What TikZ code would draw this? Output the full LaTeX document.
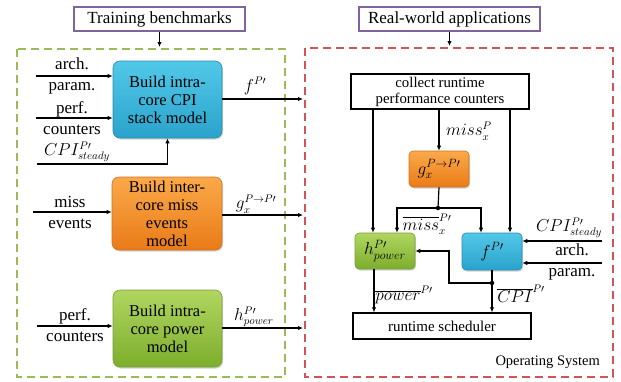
\documentclass[tikz,border=0pt]{standalone}
\usepackage{fontspec}
\setmainfont{Liberation Serif}
\usetikzlibrary{arrows.meta,shadows}
\definecolor{purp}{HTML}{8064A2}
\definecolor{gdash}{HTML}{9BBB59}
\definecolor{rdash}{HTML}{D05555}
\definecolor{blueT}{HTML}{52C8E8}
\definecolor{blueB}{HTML}{2AA3CC}
\definecolor{blueD}{HTML}{2A8CB0}
\definecolor{oraT}{HTML}{FBA94A}
\definecolor{oraB}{HTML}{E97B17}
\definecolor{oraD}{HTML}{D07020}
\definecolor{grnT}{HTML}{B0D660}
\definecolor{grnB}{HTML}{7DAE2C}
\definecolor{grnD}{HTML}{78A040}
\tikzset{
  every node/.style={font=\fontsize{16}{18}\selectfont, inner sep=0pt},
  arr/.style={line width=1.2pt, -{Latex[length=5pt,width=4.5pt]}},
  wire/.style={line width=1.2pt},
  titlebox/.style={draw=purp, line width=1.2pt, minimum height=24pt, font=\fontsize{17}{18}\selectfont},
  plainbox/.style={draw=black, line width=1.4pt},
  model/.style={rounded corners=7pt, align=center, line width=0.6pt,
     font=\fontsize{16.5}{18}\selectfont,
     drop shadow={opacity=0.35, shadow xshift=1pt, shadow yshift=-1.5pt}},
  bluebox/.style={model, draw=blueD, top color=blueT, bottom color=blueB},
  orabox/.style={model, draw=oraD, top color=oraT, bottom color=oraB},
  grnbox/.style={model, draw=grnD, top color=grnT, bottom color=grnB},
  lbl/.style={align=center, font=\fontsize{17}{21}\selectfont},
  mth/.style={font=\fontsize{16}{18}\selectfont},
  dot/.style={circle, fill=black, minimum size=4.5pt}
}
\begin{document}
\begin{tikzpicture}[x=1pt,y=-1pt]
\useasboundingbox (0,0) rectangle (621,381);
% dashed frames
\draw[gdash, line width=1.3pt, dash pattern=on 8pt off 5pt] (17,49) rectangle (285,377);
\draw[rdash, line width=1.3pt, dash pattern=on 8pt off 5pt] (305,48) rectangle (613,377);
% titles
\node[titlebox, minimum width=171pt] (train) at (159.5,19) {Training benchmarks};
\node[titlebox, minimum width=181pt] (real) at (449.5,19) {Real-world applications};
\coordinate (gtop) at (159.5,47);
\coordinate (rtop) at (449.5,46);
\draw[arr] (train) -- (gtop);
\draw[arr] (real) -- (rtop);
% left models
\node[bluebox, minimum width=109pt, minimum height=77pt] (cpi) at (167.5,99.5) {Build intra-\\core CPI\\stack model};
\node[orabox, minimum width=110pt, minimum height=73pt] (miss) at (167,213.5) {Build inter-\\core miss\\events\\model};
\node[grnbox, minimum width=109pt, minimum height=77pt] (pow) at (167.5,328.5) {Build intra-\\core power\\model};
% left inputs
\coordinate (a1) at (36,76);
\coordinate (a2) at (36,118);
\coordinate (a3) at (37,164);
\coordinate (a4) at (33,212);
\coordinate (a5) at (37,326);
\node[lbl] (l1) at (72,76) {arch.\\param.};
\node[lbl] (l2) at (72,118) {perf.\\counters};
\node[mth] (l3) at (77,152) {$CPI^{P\prime}_{steady}$};
\node[lbl] (l4) at (70,212) {miss\\events};
\node[lbl] (l5) at (75,325) {perf.\\counters};
\draw[arr] (a1) -- (a1 -| cpi.west);
\draw[arr] (a2) -- (a2 -| cpi.west);
\draw[arr] (a3) -| (cpi.south);
\draw[arr] (a4) -- (a4 -| miss.west);
\draw[arr] (a5) -- (a5 -| pow.west);
% left outputs
\coordinate (o1) at (303,99);
\coordinate (o2) at (303,215);
\coordinate (o3) at (303,328);
\draw[arr] (o1 -| cpi.east) -- (o1);
\draw[arr] (o2 -| miss.east) -- (o2);
\draw[arr] (o3 -| pow.east) -- (o3);
\node[mth] (f1) at (255,86) {$f^{P\prime}$};
\node[mth] (g1) at (256,204) {$g_x^{P\rightarrow P\prime}$};
\node[mth] (h1) at (254,317) {$h^{P\prime}_{power}$};
% right side
\node[plainbox, minimum width=178pt, minimum height=35pt, align=center, font=\fontsize{14.8}{16}\selectfont] (coll) at (440,91.5) {collect runtime\\performance counters};
\node[orabox, minimum width=60pt, minimum height=36pt, rounded corners=4pt] (g) at (439,169) {$g_x^{P\rightarrow P\prime}$};
\node[grnbox, minimum width=60pt, minimum height=36pt, rounded corners=4pt] (h) at (385,251) {$h^{P\prime}_{power}$};
\node[bluebox, minimum width=60pt, minimum height=37pt, rounded corners=4pt] (f) at (492,251.5) {$f^{P\prime}$};
\node[plainbox, minimum width=178pt, minimum height=26pt, font=\fontsize{15}{16}\selectfont] (sch) at (442,326) {runtime scheduler};
\node[anchor=east, font=\fontsize{14.5}{16}\selectfont] (os) at (600,362) {Operating System};
% from collect
\coordinate (cl) at (373,0);
\coordinate (cr) at (510,0);
\draw[arr] (coll.south -| cl) -- (h.north -| cl);
\draw[arr] (coll.south -| cr) -- (f.north -| cr);
\draw[arr] (coll.south -| g) -- (g.north);
\node[mth] (missP) at (469,131) {$miss_x^{P}$};
% g to h and f
\node[dot] (d1) at (438,208) {};
\coordinate (hl) at (397,0);
\coordinate (fr) at (481,0);
\draw[wire] (g.south) -- (d1.center);
\draw[arr] (d1.center) -| (h.north -| hl);
\draw[arr] (d1.center) -| (f.north -| fr);
\node[mth] (mbar) at (427,224) {$\overline{miss}_x^{P\prime}$};
% right inputs to f
\coordinate (r1) at (602,241);
\coordinate (r2) at (602,263);
\draw[arr] (r1) -- (r1 -| f.east);
\draw[arr] (r2) -- (r2 -| f.east);
\node[mth] (cs) at (569,228) {$CPI^{P\prime}_{steady}$};
\node[lbl] (l6) at (572,262) {arch.\\param.};
% f to scheduler and feedback to h
\node[dot] (d2) at (492,283) {};
\coordinate (fb) at (449,283);
\draw[wire] (f.south) -- (d2.center);
\draw[arr] (d2.center) -- (d2.center |- sch.north);
\draw[arr] (d2.center) -- (fb) |- (h.east);
\node[mth] (cbar) at (521,294) {$\overline{CPI}^{P\prime}$};
\coordinate (hs) at (374,0);
\draw[arr] (h.south -| hs) -- (sch.north -| hs);
\node[mth] (pbar) at (404,295) {$\overline{power}^{P\prime}$};
\end{tikzpicture}
\end{document}
